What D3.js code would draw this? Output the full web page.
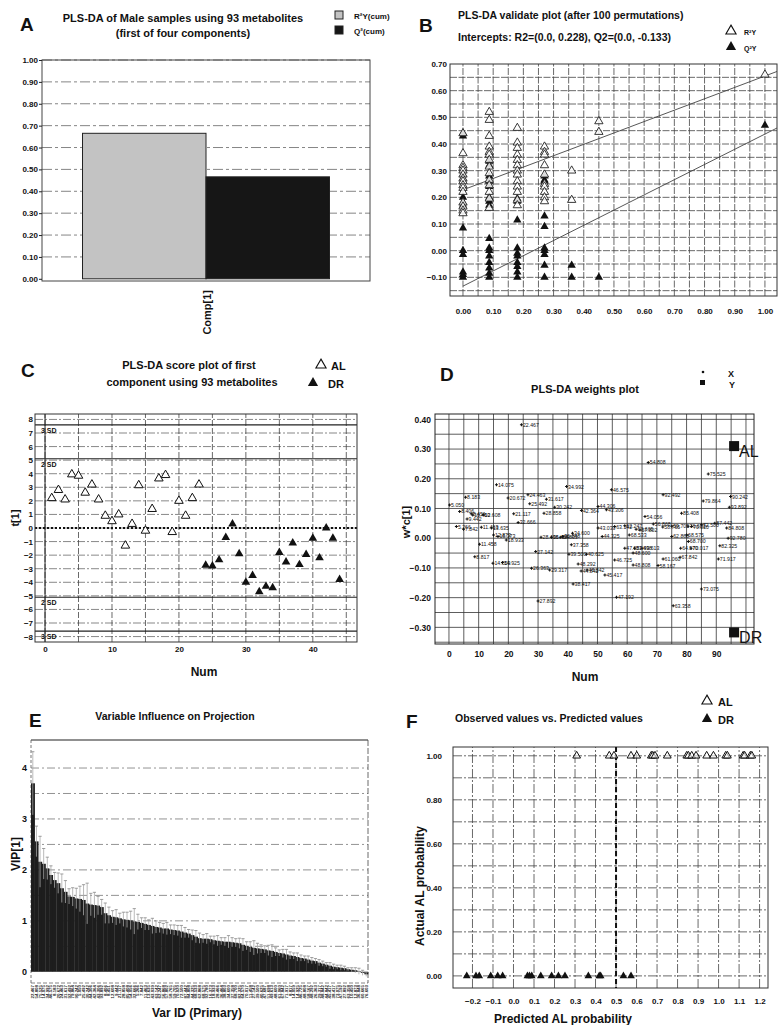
<!DOCTYPE html>
<html>
<head>
<meta charset="utf-8">
<script src="https://cdn.jsdelivr.net/npm/d3@7"></script>
<style>
  body { margin: 0; background: #fff; }
  svg { font-family: "Liberation Sans", Arial, sans-serif; font-weight: bold; }
</style>
</head>
<body>
<svg id="fig" width="779" height="1025"></svg>
<script>
// ---------------- data ----------------
// A: model summary
const aComponents = ["Comp[1]"];
const aSeries = ["R²Y(cum)", "Q²(cum)"];
const aValues = [0.665, 0.466];
const aColors = ["#c3c3c3", "#161616"];
const aTicks = [0, 0.1, 0.2, 0.3, 0.4, 0.5, 0.6, 0.7, 0.8, 0.9, 1.0];

// B: permutation test (x = correlation of permuted y with original y)
const bPermCorr = [0, 0.087, 0.18, 0.27, 0.36, 0.45, 1.0];
const bR2Y = [
  [0.44, 0.365, 0.32, 0.31, 0.30, 0.285, 0.27, 0.26, 0.245, 0.235, 0.22, 0.18, 0.165, 0.15, 0.14],
  [0.52, 0.49, 0.43, 0.39, 0.37, 0.36, 0.34, 0.315, 0.29, 0.265, 0.245, 0.22, 0.195, 0.16],
  [0.46, 0.405, 0.385, 0.36, 0.34, 0.32, 0.30, 0.285, 0.26, 0.24, 0.22, 0.19, 0.17],
  [0.39, 0.37, 0.36, 0.32, 0.285, 0.25, 0.24, 0.22, 0.20, 0.185],
  [0.30, 0.19],
  [0.485, 0.445],
  [0.66]
];
const bQ2Y = [
  [0.44, 0.43, 0.30, 0.285, 0.27, 0.20, 0.18, 0.17, 0.085, 0.0, -0.015, -0.08, -0.09, -0.10],
  [0.335, 0.32, 0.28, 0.26, 0.24, 0.20, 0.185, 0.17, 0.045, 0.01, 0.0, -0.02, -0.045, -0.065, -0.085, -0.10],
  [0.195, 0.185, 0.115, 0.01, -0.01, -0.02, -0.045, -0.06, -0.08, -0.10],
  [0.28, 0.265, 0.26, 0.13, 0.09, 0.01, 0.0, -0.015, -0.055, -0.10],
  [-0.055, -0.10],
  [-0.10],
  [0.47]
];
const bR2Line = [[0, 0.228], [1.04, 0.672]];
const bQ2Line = [[0, -0.133], [1.04, 0.46]];
const bXTicks = [0, 0.1, 0.2, 0.3, 0.4, 0.5, 0.6, 0.7, 0.8, 0.9, 1.0];
const bYTicks = [-0.1, 0, 0.1, 0.2, 0.3, 0.4, 0.5, 0.6, 0.7];

// C: scores t[1], samples 1..23 AL, 24..44 DR
const cAL = [2.2, 2.8, 2.1, 3.95, 3.85, 2.6, 3.2, 2.1, 0.9, 0.5, 1.0, -1.3, 0.3, 3.15, -0.2, 1.4, 3.65, 3.9, -0.3, 2.0, 0.9, 2.2, 3.2];
const cDR = [-2.75, -2.8, -2.35, -0.7, 0.3, -1.9, -4.0, -3.5, -4.7, -4.3, -4.4, -1.8, -2.5, -1.1, -2.7, -1.95, -0.75, -2.2, 0.0, -0.75, -3.8];
const cSdValues = [7.6, 5.1, -5.1, -7.6];
const cSdLabels = ["3 SD", "2 SD", "2 SD", "3 SD"];
const cXTicks = [0, 10, 20, 30, 40];
const cYTicks = [-8, -7, -6, -5, -4, -3, -2, -1, 0, 1, 2, 3, 4, 5, 6, 7, 8];

// D: weights w*c[1]
const dNames = ["22.467","54.808","75.525","14.075","34.992","46.575","8.183","20.672","24.463","31.617",
  "92.492","79.864","90.242","5.050","25.492","30.242","44.306","42.364","43.306","93.892",
  "8.406","8.451","12.608","9.442","21.117","28.858","85.408","54.056","32.666","5.266",
  "7.842","11.463","13.635","43.039","63.142","62.247","56.868","57.802","58.765","59.705",
  "70.020","72.500","87.442","84.808","44.325","68.533","62.868","68.575","92.780","16.373",
  "18.933","28.466","36.464","38.803","34.600","37.358","68.700","82.325","64.570","70.017",
  "11.458","27.142","39.500","40.625","47.687","51.698","49.613","48.600","61.060","67.842",
  "71.917","8.817","14.059","14.925","46.725","48.808","58.167","48.292","26.363","29.317",
  "48.842","44.842","45.417","38.417","73.075","47.192","27.892","63.358","10.450","12.873",
  "36.848","60.665","76.603"];
const dNum = [24.4,67.1,87.3,16.0,39.6,54.7,5.6,19.9,26.6,32.8,
  72.1,85.6,94.8,0.2,27.2,35.6,50.2,44.6,53.0,94.4,
  3.6,7.5,11.5,6.1,21.8,32.0,78.3,66.0,23.3,2.5,
  4.9,10.9,14.3,50.2,55.8,59.2,68.8,64.3,72.0,75.0,
  81.7,85.0,89.5,93.5,51.6,60.7,75.0,80.0,94.0,16.5,
  19.3,31.0,34.5,37.5,41.6,41.2,80.6,91.2,78.0,81.5,
  10.3,29.2,40.4,46.3,59.2,62.5,65.0,62.0,72.1,77.8,
  90.7,8.7,14.8,18.0,55.8,62.0,70.4,43.5,27.8,33.9,
  46.5,44.5,52.5,41.8,85.0,56.4,30.0,75.5,8.0,15.0,
  38.3,63.0,80.5];
const dW = [0.382,0.255,0.216,0.180,0.174,0.163,0.138,0.135,0.146,0.131,
  0.146,0.125,0.140,0.112,0.116,0.104,0.107,0.093,0.096,0.104,
  0.090,0.082,0.079,0.065,0.082,0.084,0.084,0.073,0.053,0.039,
  0.030,0.037,0.034,0.034,0.039,0.042,0.048,0.028,0.038,0.040,
  0.039,0.045,0.050,0.034,0.006,0.011,0.006,0.011,0.000,0.006,
  -0.006,0.003,0.003,0.003,0.017,-0.022,-0.011,-0.025,-0.034,-0.034,
  -0.020,-0.045,-0.054,-0.054,-0.034,-0.034,-0.034,-0.050,-0.070,-0.064,
  -0.070,-0.062,-0.084,-0.082,-0.073,-0.090,-0.092,-0.087,-0.101,-0.107,
  -0.107,-0.110,-0.124,-0.154,-0.171,-0.199,-0.211,-0.227,0.078,0.011,
  0.006,0.030,0.040];
const dYNames = ["AL", "DR"];
const dYNum = [96, 96];
const dYW = [0.31, -0.317];
const dXTicks = [0, 10, 20, 30, 40, 50, 60, 70, 80, 90];
const dYTicks = [-0.3, -0.2, -0.1, 0, 0.1, 0.2, 0.3, 0.4];

// E: VIP with confidence intervals, sorted
const eVarIds = dNames.slice();
const eVip = [3.70, 2.56, 2.16, 2.12, 2.03, 1.90, 1.80, 1.74, 1.64, 1.57, 1.48, 1.47, 1.44, 1.43, 1.41, 1.34,
  1.32, 1.31, 1.30, 1.27, 1.15, 1.11, 1.08, 1.07, 1.05, 1.03, 1.02, 1.01, 0.99, 0.98, 0.96, 0.94,
  0.92, 0.90, 0.88, 0.87, 0.85, 0.85, 0.83, 0.82, 0.81, 0.79, 0.77, 0.75, 0.72, 0.69, 0.66,
  0.65, 0.65, 0.64, 0.62, 0.61, 0.60, 0.59, 0.59, 0.58, 0.57, 0.56, 0.53, 0.51, 0.49, 0.47, 0.46,
  0.45, 0.44, 0.42, 0.41, 0.39, 0.37, 0.36, 0.34, 0.32, 0.31, 0.29, 0.27, 0.26, 0.24, 0.22, 0.21,
  0.18, 0.16, 0.14, 0.12, 0.10, 0.09, 0.08, 0.07, 0.05, 0.04, 0.03, 0.01, -0.02, -0.05];
const eErr = [0.62, 0.30, 0.50, 0.30, 0.22, 0.18, 0.15, 0.20, 0.28, 0.22, 0.15, 0.18, 0.20, 0.25, 0.30, 0.40,
  0.22, 0.25, 0.18, 0.15, 0.20, 0.16, 0.12, 0.15, 0.10, 0.14, 0.15, 0.18, 0.25, 0.15, 0.10, 0.12,
  0.10, 0.15, 0.12, 0.10, 0.10, 0.12, 0.09, 0.10, 0.10, 0.12, 0.10, 0.08, 0.10, 0.12, 0.10,
  0.08, 0.10, 0.06, 0.08, 0.10, 0.07, 0.08, 0.12, 0.09, 0.08, 0.10, 0.12, 0.08, 0.10, 0.14, 0.10,
  0.08, 0.07, 0.10, 0.12, 0.08, 0.06, 0.08, 0.10, 0.07, 0.06, 0.08, 0.06, 0.05, 0.07, 0.06, 0.05,
  0.06, 0.05, 0.04, 0.06, 0.05, 0.04, 0.05, 0.04, 0.03, 0.04, 0.05, 0.06, 0.05, 0.04];
const eYTicks = [0, 1, 2, 3, 4];
const eGrid = [0.5, 1, 1.5, 2, 2.5, 3, 3.5, 4];

// F: observed vs predicted
const fAL = [0.308, 0.467, 0.49, 0.573, 0.601, 0.672, 0.679, 0.69, 0.75, 0.845, 0.853, 0.869, 0.89,
  0.942, 0.975, 1.035, 1.043, 1.12, 1.127, 1.155, 1.162];
const fDR = [-0.228, -0.183, -0.167, -0.111, -0.077, -0.053, 0.068, 0.078, 0.089, 0.133, 0.186, 0.219,
  0.251, 0.365, 0.418, 0.425, 0.536, 0.573];
const fCut = 0.5;
const fXTicks = [-0.2, -0.1, 0, 0.1, 0.2, 0.3, 0.4, 0.5, 0.6, 0.7, 0.8, 0.9, 1.0, 1.1, 1.2];
const fYTicks = [0, 0.2, 0.4, 0.6, 0.8, 1.0];

// ---------------- helpers ----------------
const svg = d3.select("#fig");
const tri = size => d3.symbol(d3.symbolTriangle, size)();

function txt(g, x, y, s, size, opts = {}) {
  const t = g.append("text").attr("x", x).attr("y", y).attr("font-size", size)
    .attr("fill", "#111").text(s);
  if (opts.anchor) t.attr("text-anchor", opts.anchor);
  if (opts.rotate) t.attr("transform", `rotate(-90,${x},${y})`);
  return t;
}

function styleAxis(g, size) {
  g.attr("font-family", null).attr("font-size", size).attr("font-weight", "bold");
  g.select(".domain").remove();
  g.selectAll("text").attr("fill", "#111");
  g.selectAll("line").attr("stroke", "#222");
}

function grid(g, x, y, xs, ys, stroke, width, dash) {
  g.append("g").selectAll("line").data(xs).join("line")
    .attr("x1", d => x(d)).attr("x2", d => x(d))
    .attr("y1", y.range()[0]).attr("y2", y.range()[1])
    .attr("stroke", stroke).attr("stroke-width", width).attr("stroke-dasharray", dash);
  g.append("g").selectAll("line").data(ys).join("line")
    .attr("y1", d => y(d)).attr("y2", d => y(d))
    .attr("x1", x.range()[0]).attr("x2", x.range()[1])
    .attr("stroke", stroke).attr("stroke-width", width).attr("stroke-dasharray", dash);
}

function frame(g, x, y, stroke) {
  const [x0, x1] = x.range(), [y0, y1] = y.range();
  g.append("rect").attr("x", x0).attr("y", y1).attr("width", x1 - x0).attr("height", y0 - y1)
    .attr("fill", "none").attr("stroke", stroke || "#333").attr("stroke-width", 1);
}

function steps(a, b, s) { // gridline positions
  const out = [];
  for (let v = a; v <= b + 1e-9; v += s) out.push(+v.toFixed(4));
  return out;
}

// ---------------- A ----------------
{
  const g = svg.append("g");
  const x = d3.scaleBand().domain(aComponents).range([42, 370]).paddingOuter(0.164);
  const xs = d3.scaleBand().domain(aSeries).range([0, x.bandwidth()]);
  const y = d3.scaleLinear().domain([-0.01, 1.0]).range([281, 60]);

  g.append("g").selectAll("line").data(aTicks.slice(1)).join("line")
    .attr("x1", 42).attr("x2", 370).attr("y1", d => y(d)).attr("y2", d => y(d))
    .attr("stroke", "#666").attr("stroke-width", 0.8).attr("stroke-dasharray", "10,3,3,3");
  frame(g, x, y, "#444");

  g.append("g").selectAll("rect").data(aValues).join("rect")
    .attr("x", (d, i) => x(aComponents[0]) + xs(aSeries[i]))
    .attr("width", xs.bandwidth())
    .attr("y", d => y(d)).attr("height", d => y(0) - y(d))
    .attr("fill", (d, i) => aColors[i]).attr("stroke", "#222").attr("stroke-width", 1);

  const ax = g.append("g").attr("transform", "translate(42,0)")
    .call(d3.axisLeft(y).tickValues(aTicks).tickFormat(d3.format(".2f")).tickSize(3).tickPadding(1));
  styleAxis(ax, 8);

  txt(g, x(aComponents[0]) + x.bandwidth() / 2 + 5, 290, aComponents[0], 11, { anchor: "end", rotate: true });

  txt(g, 20, 31, "A", 19);
  txt(g, 183, 22, "PLS-DA of Male samples using 93 metabolites", 11, { anchor: "middle" });
  txt(g, 183, 37, "(first of four components)", 11, { anchor: "middle" });
  aSeries.forEach((s, i) => {
    g.append("rect").attr("x", 335).attr("y", 11 + i * 15).attr("width", 8).attr("height", 8)
      .attr("fill", aColors[i]).attr("stroke", "#222");
    txt(g, 354, 19 + i * 15, s, 8);
  });
}

// ---------------- B ----------------
{
  const g = svg.append("g");
  const x = d3.scaleLinear().domain([-0.043, 1.04]).range([450, 777]);
  const y = d3.scaleLinear().domain([-0.17, 0.70]).range([296, 64]);

  grid(g, x, y, steps(0, 1.0, 0.05), steps(-0.15, 0.65, 0.05), "#444", 0.8, "7,1.5");
  frame(g, x, y, "#333");

  const line = d3.line().x(d => x(d[0])).y(d => y(d[1]));
  [bR2Line, bQ2Line].forEach(l => g.append("path").attr("d", line(l))
    .attr("fill", "none").attr("stroke", "#444").attr("stroke-width", 0.9));

  const pts = (arr) => arr.flatMap((col, i) => col.map(v => [bPermCorr[i], v]));
  g.append("g").selectAll("path").data(pts(bQ2Y)).join("path")
    .attr("d", tri(30)).attr("transform", d => `translate(${x(d[0])},${y(d[1])})`)
    .attr("fill", "#111");
  g.append("g").selectAll("path").data(pts(bR2Y)).join("path")
    .attr("d", tri(30)).attr("transform", d => `translate(${x(d[0])},${y(d[1])})`)
    .attr("fill", "#fff").attr("fill-opacity", 0.85).attr("stroke", "#222").attr("stroke-width", 0.9);

  const ax = g.append("g").attr("transform", "translate(450,0)")
    .call(d3.axisLeft(y).tickValues(bYTicks).tickFormat(d3.format(".2f")).tickSize(0).tickPadding(3));
  styleAxis(ax, 8);
  const bx = g.append("g").attr("transform", "translate(0,296)")
    .call(d3.axisBottom(x).tickValues(bXTicks).tickFormat(d3.format(".2f")).tickSize(0).tickPadding(12));
  styleAxis(bx, 8);

  txt(g, 419, 32, "B", 19);
  txt(g, 458, 19, "PLS-DA validate plot (after 100 permutations)", 10.5);
  txt(g, 458, 41, "Intercepts: R2=(0.0, 0.228), Q2=(0.0, -0.133)", 10.5);
  g.append("path").attr("d", tri(45)).attr("transform", "translate(731,31)")
    .attr("fill", "#fff").attr("stroke", "#111").attr("stroke-width", 1.1);
  txt(g, 744, 35, "R²Y", 7);
  g.append("path").attr("d", tri(45)).attr("transform", "translate(731,47)").attr("fill", "#111");
  txt(g, 744, 51, "Q²Y", 7);
}

// ---------------- C ----------------
{
  const g = svg.append("g");
  const x = d3.scaleLinear().domain([-1.5, 46.6]).range([35, 357]);
  const y = d3.scaleLinear().domain([-8.4, 8.4]).range([642, 414]);

  grid(g, x, y, [], cYTicks, "#555", 0.7, "8,2,2,2");
  grid(g, x, y, [0, 5, 10, 15, 20, 25, 30, 35, 40, 45], [], "#444", 0.8, "6,2");
  g.append("line").attr("x1", x(0)).attr("x2", x(0)).attr("y1", 414).attr("y2", 642)
    .attr("stroke", "#222").attr("stroke-width", 1);
  g.append("g").selectAll("line").data(cSdValues).join("line")
    .attr("x1", 35).attr("x2", 357).attr("y1", d => y(d)).attr("y2", d => y(d))
    .attr("stroke", "#222").attr("stroke-width", 1.1);
  g.append("g").selectAll("text").data(cSdValues).join("text")
    .attr("x", 41).attr("y", d => y(d) + 8).attr("font-size", 7).attr("fill", "#111")
    .text((d, i) => cSdLabels[i]);
  g.append("line").attr("x1", 35).attr("x2", 357).attr("y1", y(0)).attr("y2", y(0))
    .attr("stroke", "#111").attr("stroke-width", 2.2).attr("stroke-dasharray", "2,2");
  frame(g, x, y, "#333");

  g.append("g").selectAll("path").data(cAL).join("path")
    .attr("d", tri(32)).attr("transform", (d, i) => `translate(${x(i + 1)},${y(d)})`)
    .attr("fill", "#fff").attr("stroke", "#111").attr("stroke-width", 1);
  g.append("g").selectAll("path").data(cDR).join("path")
    .attr("d", tri(32)).attr("transform", (d, i) => `translate(${x(i + 1 + cAL.length)},${y(d)})`)
    .attr("fill", "#111");

  const ay = g.append("g").attr("transform", "translate(35,0)")
    .call(d3.axisLeft(y).tickValues(cYTicks).tickSize(0).tickPadding(2));
  styleAxis(ay, 8);
  const ax = g.append("g").attr("transform", "translate(0,642)")
    .call(d3.axisBottom(x).tickValues(cXTicks).tickSize(0).tickPadding(4));
  styleAxis(ax, 8);

  txt(g, 204, 676, "Num", 12, { anchor: "middle" });
  txt(g, 19, 518, "t[1]", 11, { anchor: "middle", rotate: true });
  txt(g, 21, 377, "C", 19);
  txt(g, 189, 369, "PLS-DA score plot of first", 11, { anchor: "middle" });
  txt(g, 192, 386, "component using 93 metabolites", 11, { anchor: "middle" });
  g.append("path").attr("d", tri(45)).attr("transform", "translate(321,365)")
    .attr("fill", "#fff").attr("stroke", "#111").attr("stroke-width", 1.1);
  txt(g, 331, 370, "AL", 11);
  g.append("path").attr("d", tri(45)).attr("transform", "translate(313,383)").attr("fill", "#111");
  txt(g, 328, 388, "DR", 11);
}

// ---------------- D ----------------
{
  const g = svg.append("g");
  const x = d3.scaleLinear().domain([-4.7, 102.7]).range([435, 754]);
  const y = d3.scaleLinear().domain([-0.356, 0.418]).range([644, 414]);

  grid(g, x, y, steps(0, 100, 5), steps(-0.35, 0.4, 0.05), "#333", 0.8, null);
  frame(g, x, y, "#222");

  const pts = g.append("g").selectAll("g").data(dNames).join("g")
    .attr("transform", (d, i) => `translate(${x(dNum[i])},${y(dW[i])})`);
  pts.append("path").attr("d", d3.symbol(d3.symbolCross, 5)()).attr("fill", "#111");
  pts.append("text").attr("x", 1.5).attr("y", 2).attr("font-size", 5.2).attr("font-weight", "normal")
    .attr("fill", "#111").text(d => d);

  dYNames.forEach((n, i) => {
    g.append("rect").attr("x", x(dYNum[i]) - 5).attr("y", y(dYW[i]) - 5)
      .attr("width", 10).attr("height", 10).attr("fill", "#111");
    txt(g, x(dYNum[i]) + 5, y(dYW[i]) + 11, n, 16).attr("font-weight", "normal");
  });

  const ay = g.append("g").attr("transform", "translate(435,0)")
    .call(d3.axisLeft(y).tickValues(dYTicks).tickFormat(d3.format(".2f")).tickSize(0).tickPadding(4));
  styleAxis(ay, 8.5);
  const ax = g.append("g").attr("transform", "translate(0,644)")
    .call(d3.axisBottom(x).tickValues(dXTicks).tickSize(0).tickPadding(7));
  styleAxis(ax, 8.5);

  txt(g, 585, 681, "Num", 12, { anchor: "middle" });
  txt(g, 410, 522, "w*c[1]", 11, { anchor: "middle", rotate: true });
  txt(g, 440, 381, "D", 19);
  txt(g, 585, 393, "PLS-DA weights plot", 11, { anchor: "middle" });
  g.append("circle").attr("cx", 703).attr("cy", 372).attr("r", 1.3).attr("fill", "#111");
  txt(g, 728, 377, "X", 9);
  g.append("rect").attr("x", 700).attr("y", 380).attr("width", 5).attr("height", 5).attr("fill", "#111");
  txt(g, 729, 388, "Y", 9);
}

// ---------------- E ----------------
{
  const g = svg.append("g");
  const x = d3.scaleBand().domain(eVarIds).range([31, 368]).padding(0);
  const y = d3.scaleLinear().domain([-0.22, 4.55]).range([983, 740]);

  g.append("g").selectAll("line").data(eGrid).join("line")
    .attr("x1", 31).attr("x2", 368).attr("y1", d => y(d)).attr("y2", d => y(d))
    .attr("stroke", "#777").attr("stroke-width", 0.8).attr("stroke-dasharray", "8,3,2,3");
  g.append("line").attr("x1", 31).attr("x2", 368).attr("y1", 740).attr("y2", 740)
    .attr("stroke", "#222").attr("stroke-width", 1.2);
  g.append("line").attr("x1", 31).attr("x2", 368).attr("y1", 983).attr("y2", 983)
    .attr("stroke", "#666").attr("stroke-width", 0.8).attr("stroke-dasharray", "4,2");
  g.append("line").attr("x1", 368).attr("x2", 368).attr("y1", 740).attr("y2", 983)
    .attr("stroke", "#444").attr("stroke-width", 0.8).attr("stroke-dasharray", "6,2");
  g.append("line").attr("x1", 31).attr("x2", 31).attr("y1", 740).attr("y2", 983)
    .attr("stroke", "#555").attr("stroke-width", 0.8).attr("stroke-dasharray", "3,2");

  g.append("g").selectAll("rect").data(eVip).join("rect")
    .attr("x", (d, i) => x(eVarIds[i])).attr("width", x.bandwidth() + 0.3)
    .attr("y", d => y(Math.max(0, d))).attr("height", d => Math.abs(y(d) - y(0)))
    .attr("fill", "#1d1d1d");

  const eb = g.append("g").selectAll("g").data(eVip).join("g")
    .attr("transform", (d, i) => `translate(${x(eVarIds[i]) + x.bandwidth() / 2},0)`);
  eb.append("line").attr("y1", (d, i) => y(d - eErr[i])).attr("y2", (d, i) => y(d + eErr[i]))
    .attr("stroke", "#a8a8a8").attr("stroke-width", 0.8);
  eb.append("line").attr("x1", -1.6).attr("x2", 1.6)
    .attr("y1", (d, i) => y(d + eErr[i])).attr("y2", (d, i) => y(d + eErr[i]))
    .attr("stroke", "#888").attr("stroke-width", 0.8);

  g.append("g").selectAll("text").data(eVarIds).join("text")
    .attr("transform", d => `translate(${x(d) + x.bandwidth() / 2 + 1.5},985) rotate(-90)`)
    .attr("text-anchor", "end").attr("font-size", 4.4).attr("fill", "#222").text(d => d);

  const ay = g.append("g").attr("transform", "translate(31,0)")
    .call(d3.axisLeft(y).tickValues(eYTicks).tickFormat(d3.format("d")).tickSize(0).tickPadding(4));
  styleAxis(ay, 9);

  txt(g, 197, 1017, "Var ID (Primary)", 12, { anchor: "middle" });
  txt(g, 20, 854, "VIP[1]", 12, { anchor: "middle", rotate: true });
  txt(g, 29, 727, "E", 19);
  txt(g, 175, 720, "Variable Influence on Projection", 10.5, { anchor: "middle" });
}

// ---------------- F ----------------
{
  const g = svg.append("g");
  const x = d3.scaleLinear().domain([-0.295, 1.241]).range([453, 768]);
  const y = d3.scaleLinear().domain([-0.055, 1.04]).range([988, 747]);

  grid(g, x, y, steps(-0.2, 1.2, 0.1), steps(0, 1.0, 0.1), "#444", 0.8, "9,2,2,2");
  frame(g, x, y, "#333");
  g.append("line").attr("x1", x(fCut)).attr("x2", x(fCut)).attr("y1", 747).attr("y2", 988)
    .attr("stroke", "#111").attr("stroke-width", 2).attr("stroke-dasharray", "5,3");

  g.append("g").selectAll("path").data(fDR).join("path")
    .attr("d", tri(26)).attr("transform", d => `translate(${x(d)},${y(0)})`).attr("fill", "#111");
  g.append("g").selectAll("path").data(fAL).join("path")
    .attr("d", tri(26)).attr("transform", d => `translate(${x(d)},${y(1)})`)
    .attr("fill", "#fff").attr("fill-opacity", 0.6).attr("stroke", "#111").attr("stroke-width", 1);

  const ay = g.append("g").attr("transform", "translate(453,0)")
    .call(d3.axisLeft(y).tickValues(fYTicks).tickFormat(d3.format(".2f")).tickSize(0).tickPadding(11));
  styleAxis(ay, 8);
  const ax = g.append("g").attr("transform", "translate(0,988)")
    .call(d3.axisBottom(x).tickValues(fXTicks).tickFormat(d3.format(".1f")).tickSize(0).tickPadding(10));
  styleAxis(ax, 8);

  txt(g, 563, 1023, "Predicted AL probability", 12, { anchor: "middle" });
  txt(g, 424, 886, "Actual AL probability", 12, { anchor: "middle", rotate: true });
  txt(g, 406, 728, "F", 19);
  txt(g, 455, 722, "Observed values vs. Predicted values", 10.5);
  g.append("path").attr("d", tri(45)).attr("transform", "translate(707,701)")
    .attr("fill", "#fff").attr("stroke", "#111").attr("stroke-width", 1.1);
  txt(g, 718, 706, "AL", 11);
  g.append("path").attr("d", tri(45)).attr("transform", "translate(707,719)").attr("fill", "#111");
  txt(g, 718, 724, "DR", 11);
}
</script>
</body>
</html>
